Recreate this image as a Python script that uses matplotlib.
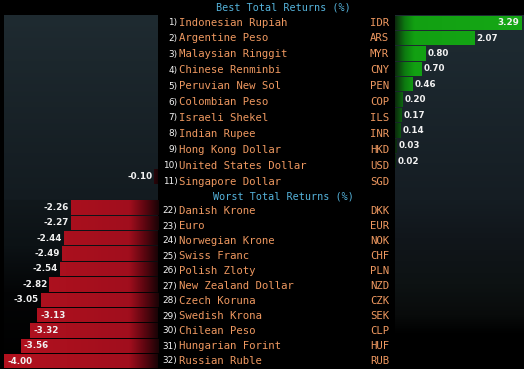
import numpy as np
import matplotlib.pyplot as plt
from matplotlib.colors import to_rgb

# data
best_names = ['Indonesian Rupiah', 'Argentine Peso', 'Malaysian Ringgit', 'Chinese Renminbi',
              'Peruvian New Sol', 'Colombian Peso', 'Israeli Shekel', 'Indian Rupee',
              'Hong Kong Dollar', 'United States Dollar', 'Singapore Dollar']
best_codes = ['IDR', 'ARS', 'MYR', 'CNY', 'PEN', 'COP', 'ILS', 'INR', 'HKD', 'USD', 'SGD']
best_values = [3.29, 2.07, 0.80, 0.70, 0.46, 0.20, 0.17, 0.14, 0.03, 0.02, -0.10]
best_ranks = list(range(1, 12))

worst_names = ['Danish Krone', 'Euro', 'Norwegian Krone', 'Swiss Franc', 'Polish Zloty',
               'New Zealand Dollar', 'Czech Koruna', 'Swedish Krona', 'Chilean Peso',
               'Hungarian Forint', 'Russian Ruble']
worst_codes = ['DKK', 'EUR', 'NOK', 'CHF', 'PLN', 'NZD', 'CZK', 'SEK', 'CLP', 'HUF', 'RUB']
worst_values = [-2.26, -2.27, -2.44, -2.49, -2.54, -2.82, -3.05, -3.13, -3.32, -3.56, -4.00]
worst_ranks = list(range(22, 33))

# layout (pixels)
W, H = 524, 369
N_ROWS = 23
ORANGE = '#ee9860'
BLUE = '#55b3db'
MONO = 'DejaVu Sans Mono'

fig = plt.figure(figsize=(W / 100, H / 100), dpi=100, facecolor='black')


def px_axes(x0, y0, x1, y1):
    ax = fig.add_axes([x0 / W, 1 - y1 / H, (x1 - x0) / W, (y1 - y0) / H])
    ax.set_facecolor('black')
    ax.axis('off')
    return ax


def interp_colors(xs, stops):
    pos = [s[0] for s in stops]
    cols = np.array([to_rgb(s[1]) for s in stops])
    return np.stack([np.interp(xs, pos, cols[:, k]) for k in range(3)], axis=-1)


def background(ax, xlim, stops):
    ys = np.linspace(-0.5, N_ROWS - 0.5, 500)
    img = interp_colors(ys, stops)[:, None, :]
    ax.imshow(img, extent=(xlim[0], xlim[1], N_ROWS - 0.5, -0.5),
              aspect='auto', zorder=0, interpolation='bilinear')


ax_neg = px_axes(4, 15, 158, 369)
ax_pos = px_axes(395, 15, 524, 369)
neg_lim = (-4.0, 0)
pos_lim = (0, 129 / 38.5)

background(ax_neg, neg_lim, [(-0.5, '#1f2b31'), (11.49, '#131b20'), (11.5, '#11181c'),
                             (14.5, '#0c1215'), (17.5, '#040506'), (22.5, '#000000')])
background(ax_pos, pos_lim, [(-0.5, '#1f2c33'), (11.5, '#151d23'), (14.0, '#11161b'),
                             (17.0, '#0d1213'), (19.0, '#090b0b'), (20.3, '#000000'),
                             (22.5, '#000000')])

red_x = np.linspace(neg_lim[0], neg_lim[1], 300)
red_img = interp_colors(red_x, [(-4.0, '#b3121f'), (-0.75, '#a10e1d'), (-0.35, '#5c0610'),
                                (0.0, '#1a0306')])[None, :, :]
green_x = np.linspace(pos_lim[0], pos_lim[1], 300)
green_img = interp_colors(green_x, [(0.0, '#0b2a0d'), (0.25, '#0d7a10'), (0.5, '#12a012'),
                                   (3.4, '#16a816')])[None, :, :]

rows = list(enumerate(best_values)) + [(12 + i, v) for i, v in enumerate(worst_values)]
for y, v in rows:
    if v > 0:
        ax, img, lim = ax_pos, green_img, pos_lim
    else:
        ax, img, lim = ax_neg, red_img, neg_lim
    bar = ax.barh(y, v, height=0.93, color='none', linewidth=0, zorder=2)[0]
    im = ax.imshow(img, extent=(lim[0], lim[1], y + 0.465, y - 0.465),
                   aspect='auto', zorder=2, interpolation='bilinear')
    im.set_clip_path(bar)

    inside = abs(v) > 3.1
    sign = 1 if v > 0 else -1
    if inside:
        dx, ha = -3 * sign, ('right' if v > 0 else 'left')
    else:
        dx, ha = 2 * sign, ('left' if v > 0 else 'right')
    ax.annotate(f'{v:.2f}', (v, y), xytext=(dx, 0), textcoords='offset pixels',
                ha=ha, va='center', color='#f2f2f2', fontsize=6.3,
                fontweight='bold', zorder=4)

for ax, lim in ((ax_neg, neg_lim), (ax_pos, pos_lim)):
    ax.set_xlim(*lim)
    ax.set_ylim(N_ROWS - 0.5, -0.5)

# middle text column
fig.text(283 / W, 1 - 7 / H, 'Best Total Returns (%)', color=BLUE, ha='center',
         va='center', family=MONO, size=7.3)
fig.text(283 / W, 1 - 196.5 / H, 'Worst Total Returns (%)', color=BLUE, ha='center',
         va='center', family=MONO, size=7.3)


def table(ranks, names, codes, y0, step):
    for i, (r, n, c) in enumerate(zip(ranks, names, codes)):
        fy = 1 - (y0 + step * i) / H
        fig.text(177.5 / W, fy, f'{r})', color='#f4f4f4', ha='right', va='center',
                 family='DejaVu Sans', size=6.4)
        fig.text(179 / W, fy, n, color=ORANGE, ha='left', va='center', family=MONO, size=7.7)
        fig.text(389 / W, fy, c, color=ORANGE, ha='right', va='center', family=MONO, size=7.7)


table(best_ranks, best_names, best_codes, 22.5, 15.9)
table(worst_ranks, worst_names, worst_codes, 211.0, 15.0)

fig.savefig('out.png', dpi=100, facecolor='black')
